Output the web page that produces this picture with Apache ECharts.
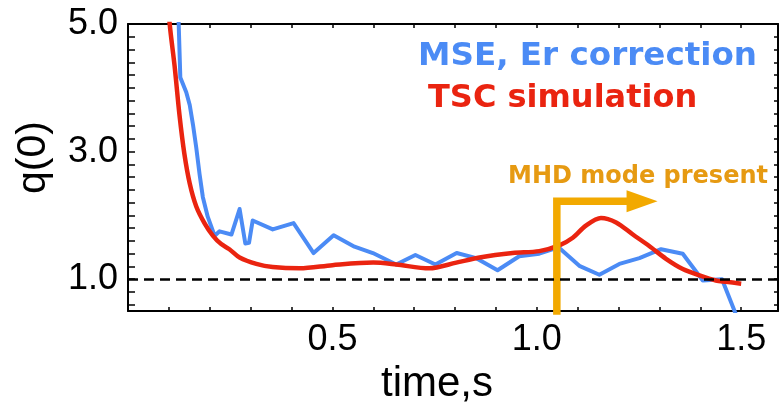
<!DOCTYPE html>
<html>
<head>
<meta charset="utf-8">
<script src="https://cdn.jsdelivr.net/npm/echarts@6/dist/echarts.min.js"></script>
<style>
  html, body { margin: 0; padding: 0; background: #fff; }
  #main { width: 780px; height: 410px; }
</style>
</head>
<body>
<div id="main"></div>
<script>
// MSE, Er correction (blue)
const mseT = [0.121, 0.124, 0.128, 0.1425, 0.151, 0.159, 0.167, 0.175, 0.183, 0.195, 0.212, 0.224, 0.253, 0.273, 0.287, 0.296, 0.305, 0.354, 0.405, 0.454, 0.503, 0.554, 0.599, 0.656, 0.703, 0.752, 0.804, 0.852, 0.904, 0.957, 1.006, 1.053, 1.104, 1.153, 1.202, 1.251, 1.304, 1.357, 1.406, 1.453, 1.49]
const mseQ = [5.6, 5.0, 4.16, 3.93, 3.73, 3.42, 3.06, 2.65, 2.29, 1.98, 1.68, 1.75, 1.70, 2.10, 1.56, 1.57, 1.92, 1.78, 1.88, 1.41, 1.69, 1.51, 1.41, 1.23, 1.38, 1.23, 1.41, 1.33, 1.14, 1.36, 1.40, 1.50, 1.21, 1.07, 1.24, 1.33, 1.47, 1.40, 0.98, 1.00, 0.40]

// TSC simulation (red)
const tscT = [0.096, 0.102, 0.114, 0.126, 0.138, 0.151, 0.167, 0.187, 0.208, 0.228, 0.248, 0.273, 0.314, 0.354, 0.42, 0.50, 0.60, 0.656, 0.737, 0.803, 0.86, 0.941, 1.006, 1.055, 1.088, 1.12, 1.157, 1.194, 1.235, 1.275, 1.316, 1.357, 1.398, 1.438, 1.463, 1.50]
const tscQ = [5.6, 5.0, 4.34, 3.57, 2.96, 2.50, 2.14, 1.88, 1.68, 1.55, 1.47, 1.34, 1.24, 1.19, 1.17, 1.22, 1.26, 1.23, 1.17, 1.26, 1.34, 1.41, 1.44, 1.53, 1.65, 1.84, 1.96, 1.89, 1.70, 1.52, 1.32, 1.16, 1.06, 0.98, 0.96, 0.93]

// MHD marker: vertical bar, then arrow to the right
const mhdT = [1.049, 1.049, 1.2575]
const mhdQ = [0.3, 2.22, 2.22]

// axes
const xTicks = [0.1, 0.2, 0.3, 0.4, 0.5, 0.6, 0.7, 0.8, 0.9, 1.0, 1.1, 1.2, 1.3, 1.4, 1.5]
const xLabels = [0.5, 1.0, 1.5]
const yTicks = [0.6, 0.8, 1.0, 1.2, 1.4, 1.6, 1.8, 2.0, 2.2, 2.4, 2.6, 2.8, 3.0, 3.2, 3.4, 3.6, 3.8, 4.0, 4.2, 4.4, 4.6, 4.8]
const yLabels = [1.0, 3.0, 5.0]

const zip = (a, b) => a.map((v, i) => [v, b[i]])

const chart = echarts.init(document.getElementById('main'))

const axisLine = { show: true, onZero: false, lineStyle: { color: '#000', width: 2 } }
const tickFont = { fontFamily: 'Liberation Sans', fontSize: 36, color: '#000' }

const mhdData = zip(mhdT, mhdQ).map((p, i) => {
    if (i === mhdT.length - 1) {
        return { value: p, symbol: 'triangle', symbolSize: [22, 31], symbolRotate: -90 }
    }
    return { value: p, symbol: 'none' }
})

const option = {
    animation: false,
    backgroundColor: '#fff',
    grid: { left: 128, top: 24, width: 650, height: 292.5, containLabel: false },
    legend: [
        {
            data: [{ name: 'MSE, Er correction', icon: 'none' }],
            left: 408, top: 35, itemWidth: 0, itemGap: 0, selectedMode: false,
            textStyle: { color: '#4B8BF5', fontFamily: 'DejaVu Sans', fontWeight: 'bold', fontSize: 32.6 }
        },
        {
            data: [{ name: 'TSC simulation', icon: 'none' }],
            left: 418, top: 78, itemWidth: 0, itemGap: 0, selectedMode: false,
            textStyle: { color: '#EA2410', fontFamily: 'DejaVu Sans', fontWeight: 'bold', fontSize: 32 }
        }
    ],
    xAxis: [
        {
            type: 'value', min: 0, max: 1.59, position: 'bottom',
            name: 'time,s', nameLocation: 'middle', nameGap: 45,
            nameTextStyle: { fontFamily: 'Liberation Sans', fontSize: 42, color: '#000', padding: [0, 32, 0, 0] },
            axisLine: axisLine,
            axisTick: { show: true, inside: true, length: 4, customValues: xTicks, lineStyle: { color: '#000', width: 1.5 } },
            axisLabel: Object.assign({ margin: 11, customValues: xLabels, formatter: v => v.toFixed(1) }, tickFont),
            splitLine: { show: false }
        },
        {
            type: 'value', min: 0, max: 1.59, position: 'top',
            axisLine: axisLine,
            axisTick: { show: true, inside: true, length: 4, customValues: xTicks, lineStyle: { color: '#000', width: 1.5 } },
            axisLabel: { show: false },
            splitLine: { show: false }
        }
    ],
    yAxis: [
        {
            type: 'value', min: 0.5, max: 5, position: 'left',
            name: 'q(0)', nameLocation: 'middle', nameRotate: 90, nameGap: 74,
            nameTextStyle: { fontFamily: 'Liberation Sans', fontSize: 41, color: '#000', padding: [0, 0, 0, 20] },
            axisLine: axisLine,
            axisTick: { show: true, inside: true, length: 7, customValues: yTicks, lineStyle: { color: '#000', width: 1.5 } },
            axisLabel: Object.assign({ margin: 10, customValues: yLabels, formatter: v => v.toFixed(1) }, tickFont),
            splitLine: { show: false }
        },
        {
            type: 'value', min: 0.5, max: 5, position: 'right',
            axisLine: axisLine,
            axisTick: { show: true, inside: true, length: 4, customValues: yTicks, lineStyle: { color: '#000', width: 1.5 } },
            axisLabel: { show: false },
            splitLine: { show: false }
        }
    ],
    graphic: [
        {
            type: 'text', z: 10,
            style: {
                text: 'MHD mode present', x: 508, y: 177,
                fill: '#E69A12', font: 'bold 24px "DejaVu Sans"', verticalAlign: 'middle'
            }
        }
    ],
    series: [
        {
            name: 'MSE, Er correction', type: 'line', xAxisIndex: 0, yAxisIndex: 0,
            data: zip(mseT, mseQ), symbol: 'none', clip: true,
            lineStyle: { color: '#4B8BF5', width: 4, join: 'round' },
            itemStyle: { color: '#4B8BF5' }, z: 2
        },
        {
            name: 'TSC simulation', type: 'line', xAxisIndex: 0, yAxisIndex: 0,
            data: zip(tscT, tscQ), symbol: 'none', smooth: 0.3, clip: true,
            lineStyle: { color: '#EA2410', width: 4.5 },
            itemStyle: { color: '#EA2410' }, z: 3,
            // q = 1 reference
            markLine: {
                silent: true, symbol: 'none', label: { show: false }, z: 6,
                lineStyle: { color: '#000', width: 2.5, type: [10, 6] },
                data: [{ yAxis: 1.0 }]
            }
        },
        {
            name: 'MHD', type: 'line', xAxisIndex: 0, yAxisIndex: 0,
            data: mhdData, clip: true, showAllSymbol: true,
            lineStyle: { color: '#F2A900', width: 7.5, join: 'miter', cap: 'butt' },
            itemStyle: { color: '#F2A900' }, z: 5
        }
    ]
}

chart.setOption(option)
</script>
</body>
</html>
